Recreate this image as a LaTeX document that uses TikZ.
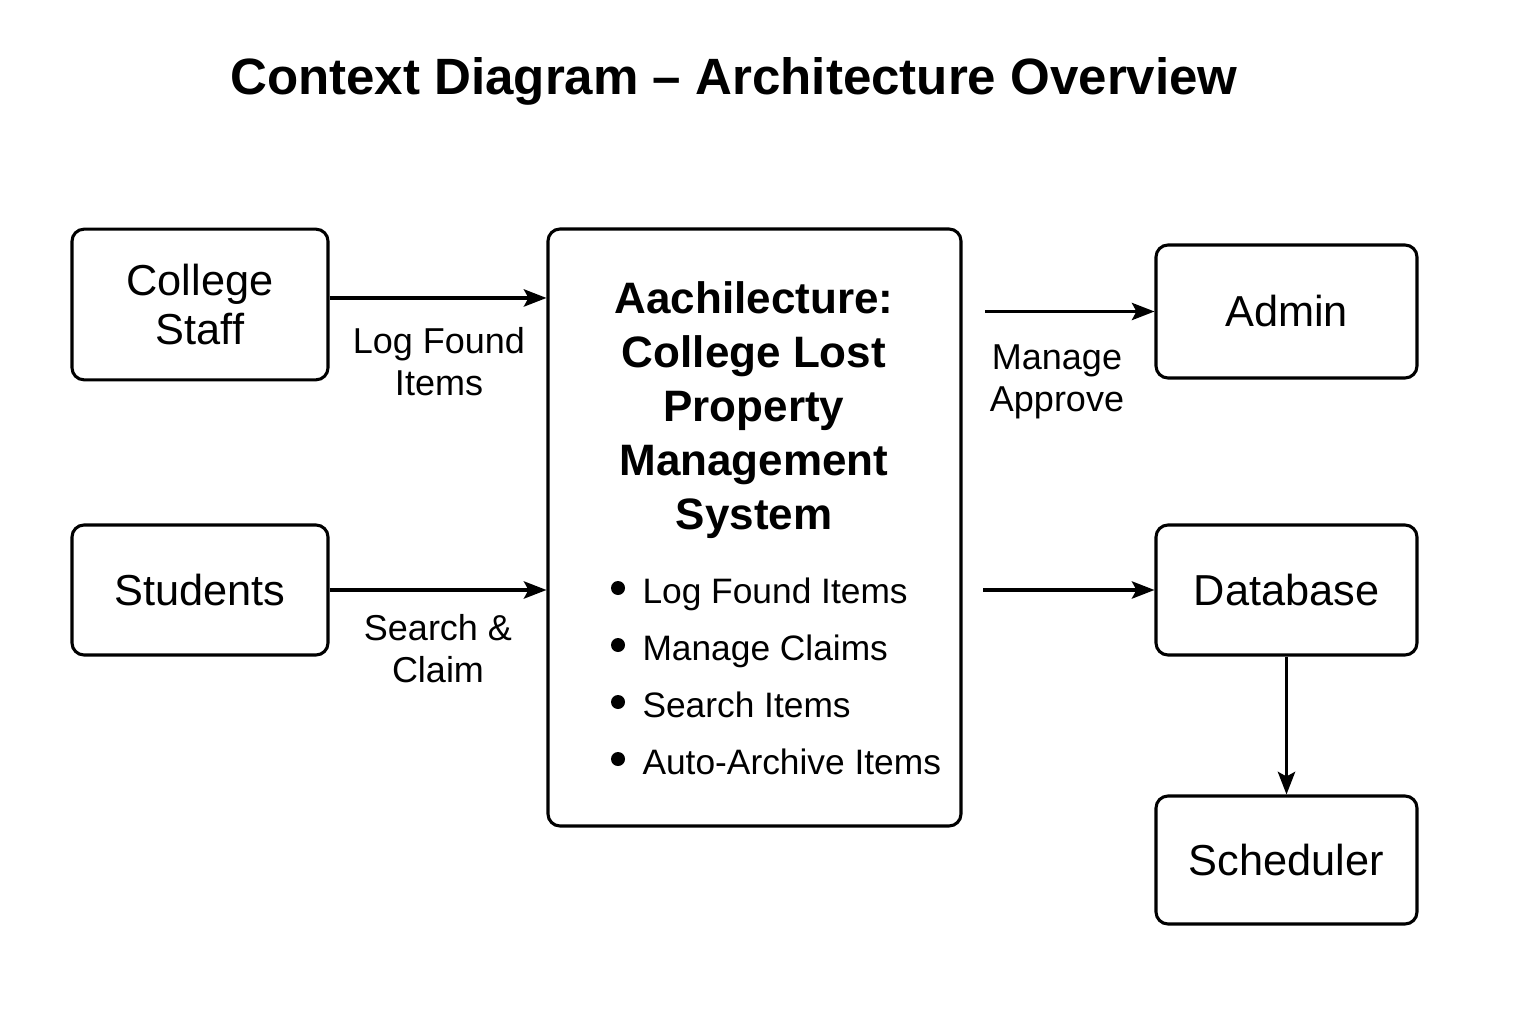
\documentclass[tikz,border=0pt]{standalone}
\usepackage{fontspec}
\setmainfont{Liberation Sans}
\usetikzlibrary{arrows.meta}

\tikzset{every picture/.style={line width=0.75pt}}
\tikzset{
	entity/.style={draw, line width=2.3pt, rounded corners=9pt, align=center, inner sep=0pt, font=\fontsize{32.5}{37}\selectfont},
	flow/.style={-{Stealth[length=17pt,width=13pt,inset=3.5pt]}, line width=2.3pt},
	flowlabel/.style={align=center, inner sep=0pt, font=\fontsize{27}{31.5}\selectfont},
	item/.style={anchor=base west, inner sep=0pt, font=\fontsize{26.5}{30}\selectfont},
}

\begin{document}
\begin{tikzpicture}[x=0.75pt,y=0.75pt,yscale=-1,xscale=1]
	\useasboundingbox (0,0) rectangle (1536,1024);

	% Title
	\node (title) at (734,81) {\fontsize{38.3}{44}\selectfont\bfseries Context Diagram -- Architecture Overview};

	%Shape: Rectangle [actors]
	\node[entity, minimum width=192pt, minimum height=113pt] (staff) at (200,304.5) {College\\Staff};
	\node[entity, minimum width=192pt, minimum height=97.5pt] (students) at (200,590) {Students};
	%Shape: Rectangle [system]
	\node[entity, minimum width=309.75pt, minimum height=447.75pt] (main) at (754.5,527.5) {};
	%Shape: Rectangle [outputs]
	\node[entity, minimum width=195.75pt, minimum height=99.75pt] (admin) at (1286.5,311.5) {Admin};
	\node[entity, minimum width=195.75pt, minimum height=97.5pt] (db) at (1286.5,590) {Database};
	\node[entity, minimum width=195.75pt, minimum height=96pt] (sched) at (1286.5,860) {Scheduler};

	% Text Node
	\node[align=center, font=\fontsize{33}{40.5}\selectfont\bfseries] (systitle) at (754,410) {Aachilecture:\\College Lost\\Property\\Management\\System};
	% Bullets
	\foreach \t [count=\i] in {Log Found Items, Manage Claims, Search Items, Auto-Archive Items} {
		\fill (618,{531+57*\i}) circle (7);
		\node[item] (item\i) at (642,{546+57*\i}) {\t};
	}

	%Straight Lines
	\coordinate (staffout) at ([yshift=-4.9pt]staff.east);
	\coordinate (adminfrom) at (985,311.5);
	\coordinate (dbfrom) at (983,590);
	\draw[flow] (staffout) -- (staffout -| main.west);
	\draw[flow] (students.east) -- (students.east -| main.west);
	\draw[flow] (adminfrom) -- (admin.west);
	\draw[flow] (dbfrom) -- (db.west);
	\draw[flow] (db.south) -- (sched.north);

	% Text Node
	\node[flowlabel] (loglabel) at (439,362) {Log Found\\Items};
	\node[flowlabel] (searchlabel) at (438,649) {Search \&\\Claim};
	\node[flowlabel] (managelabel) at (1057,382) {Manage\\Approve};
\end{tikzpicture}
\end{document}
